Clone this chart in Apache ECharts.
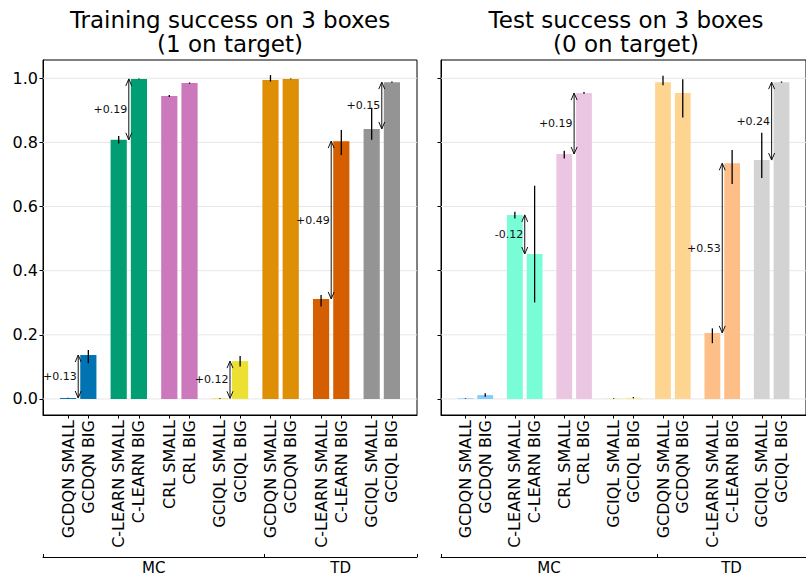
<!DOCTYPE html>
<html>
<head>
<meta charset="utf-8">
<script src="https://cdn.jsdelivr.net/npm/echarts@6/dist/echarts.min.js"></script>
<style>
  html, body { margin: 0; padding: 0; background: #fff; }
  #chart { width: 806px; height: 576px; }
</style>
</head>
<body>
<div id="chart"></div>
<script>
// Methods in plotting order, each shown with a SMALL and a BIG network
const methods = ['GCDQN', 'C-LEARN', 'CRL', 'GCIQL', 'GCDQN', 'C-LEARN', 'GCIQL'];
const sizes = ['SMALL', 'BIG'];
// Target estimation family (Monte-Carlo / temporal difference)
const groupNames = ['MC', 'TD'];
const groupEdges = [0, 0.592, 1];
const yTicks = [0, 0.2, 0.4, 0.6, 0.8, 1.0];

// Training success (1 box on target), mean and error-bar bounds
const trainValues = [0.003, 0.137, 0.808, 0.998, 0.945, 0.985, 0.002, 0.118, 0.995, 0.998, 0.312, 0.804, 0.842, 0.988];
const trainErrLow = [0.002, 0.111, 0.797, 0.997, 0.942, 0.983, 0.001, 0.101, 0.990, 0.997, 0.288, 0.761, 0.808, 0.986];
const trainErrHigh = [0.004, 0.153, 0.820, 0.999, 0.948, 0.987, 0.003, 0.134, 1.010, 0.999, 0.324, 0.839, 0.908, 0.990];

// Test success (0 boxes on target)
const testValues = [0.002, 0.012, 0.574, 0.452, 0.764, 0.954, 0.002, 0.004, 0.988, 0.954, 0.206, 0.735, 0.745, 0.988];
const testErrLow = [0.001, 0.007, 0.563, 0.301, 0.750, 0.952, 0.001, 0.002, 0.978, 0.878, 0.174, 0.670, 0.689, 0.986];
const testErrHigh = [0.003, 0.018, 0.584, 0.665, 0.774, 0.957, 0.003, 0.006, 1.008, 0.997, 0.220, 0.776, 0.830, 0.990];

const trainColors = ['#0173b2', '#029e73', '#cc78bc', '#ece133', '#de8f05', '#d55e00', '#949494'];
const testColors = ['#82cdf9', '#78fdd7', '#ebc6e3', '#f6eea4', '#fdd591', '#fdbe88', '#d3d3d3'];

const FONT = 'DejaVu Sans';
const BAR_W = 0.8;
const X_MIN = -1.24, X_MAX = 17.24;
const Y_MIN = -0.05, Y_MAX = 1.057;
const DIFF_MIN = 0.1; // only annotate gaps larger than this

// x positions: pairs one unit apart, pairs 2.5 units apart
const positions = [];
const labels = [];
methods.forEach((m, i) => {
  sizes.forEach((s, j) => {
    positions.push(i * 2.5 + j);
    labels.push(m + ' ' + s);
  });
});
const groupMids = groupEdges.slice(0, -1).map((e, i) => (e + groupEdges[i + 1]) / 2);

function labelAt(v, list, names) {
  const k = list.findIndex(p => Math.abs(p - v) < 1e-6);
  return k < 0 ? '' : names[k];
}

const grids = [
  { left: 43, top: 60, width: 374, height: 355 },
  { left: 441, top: 60, width: 373, height: 355 }
];

function mainXAxis(gi) {
  return {
    gridIndex: gi, type: 'value', min: X_MIN, max: X_MAX, position: 'bottom',
    axisLine: { show: true, onZero: false, lineStyle: { color: '#000', width: 1 } },
    axisTick: { show: true, customValues: positions, length: 3.5, lineStyle: { color: '#000', width: 1 } },
    axisLabel: {
      show: true, customValues: positions, rotate: 90, margin: 5,
      fontSize: 16, fontFamily: FONT, color: '#000',
      formatter: v => labelAt(v, positions, labels)
    },
    splitLine: { show: false }
  };
}

function groupXAxis(gi) {
  return {
    gridIndex: gi, type: 'value', min: 0, max: 1, position: 'bottom', offset: 142,
    axisLine: { show: true, onZero: false, lineStyle: { color: '#000', width: 1 } },
    axisTick: { show: true, inside: true, customValues: groupEdges, length: 3, lineStyle: { color: '#000', width: 1 } },
    axisLabel: {
      show: true, customValues: groupMids, margin: 3,
      fontSize: 15, fontFamily: FONT, color: '#000',
      formatter: v => labelAt(v, groupMids, groupNames)
    },
    splitLine: { show: false }
  };
}

function yAxis(gi, showLabels) {
  return {
    gridIndex: gi, type: 'value', min: Y_MIN, max: Y_MAX,
    axisLine: { show: true, onZero: false, lineStyle: { color: '#000', width: 1 } },
    axisTick: { show: true, customValues: yTicks, length: 3.5, lineStyle: { color: '#000', width: 1 } },
    axisLabel: {
      show: showLabels, customValues: yTicks, margin: 5,
      fontSize: 16, fontFamily: FONT, color: '#000',
      formatter: v => v.toFixed(1)
    },
    splitLine: { show: false }
  };
}

function panelSeries(gi, values, errLow, errHigh, colors) {
  const axisRef = { xAxisIndex: gi, yAxisIndex: gi };
  const series = [];

  // horizontal grid lines
  series.push(Object.assign({
    type: 'custom', z: 1, silent: true,
    data: yTicks.map(v => [0, v]),
    encode: { x: 0, y: 1 },
    renderItem: (params, api) => {
      const cs = params.coordSys;
      const y = api.coord([0, api.value(1)])[1];
      return {
        type: 'line',
        shape: { x1: cs.x, y1: y, x2: cs.x + cs.width, y2: y },
        style: { stroke: '#e6e6e6', lineWidth: 1 }
      };
    }
  }, axisRef));

  // bars
  series.push(Object.assign({
    type: 'custom', z: 2, silent: true,
    data: values.map((v, i) => [positions[i], v, Math.floor(i / 2)]),
    encode: { x: 0, y: 1 },
    renderItem: (params, api) => {
      const x = api.value(0), v = api.value(1);
      const p0 = api.coord([x - BAR_W / 2, v]);
      const p1 = api.coord([x + BAR_W / 2, 0]);
      return {
        type: 'rect',
        shape: { x: p0[0], y: Math.min(p0[1], p1[1]), width: p1[0] - p0[0], height: Math.abs(p1[1] - p0[1]) },
        style: { fill: colors[api.value(2)] }
      };
    }
  }, axisRef));

  // error bars
  series.push(Object.assign({
    type: 'custom', z: 3, silent: true,
    data: values.map((v, i) => [positions[i], errLow[i], errHigh[i]]),
    encode: { x: 0, y: [1, 2] },
    renderItem: (params, api) => {
      const x = api.value(0);
      const a = api.coord([x, api.value(1)]);
      const b = api.coord([x, api.value(2)]);
      return {
        type: 'line',
        shape: { x1: a[0], y1: a[1], x2: b[0], y2: b[1] },
        style: { stroke: '#000', lineWidth: 1.3 }
      };
    }
  }, axisRef));

  // SMALL -> BIG difference arrows
  const diffs = [];
  for (let i = 0; i < values.length; i += 2) {
    const d = values[i + 1] - values[i];
    if (Math.abs(d) > DIFF_MIN) diffs.push([positions[i] + 0.5, values[i], values[i + 1]]);
  }
  series.push(Object.assign({
    type: 'custom', z: 4, silent: true,
    data: diffs,
    encode: { x: 0, y: [1, 2] },
    renderItem: (params, api) => {
      const x = api.value(0), from = api.value(1), to = api.value(2);
      const a = api.coord([x, from]);
      const b = api.coord([x, to]);
      const dir = b[1] > a[1] ? 1 : -1; // screen direction from a to b
      const L = 7, W = 3;
      const stroke = { stroke: '#111', lineWidth: 1, fill: null };
      const d = to - from;
      const txt = (d >= 0 ? '+' : '-') + Math.abs(d).toFixed(2);
      return {
        type: 'group',
        children: [
          { type: 'line', shape: { x1: a[0], y1: a[1], x2: b[0], y2: b[1] }, style: stroke },
          { type: 'polyline', shape: { points: [[b[0] - W, b[1] - dir * L], [b[0], b[1]], [b[0] + W, b[1] - dir * L]] }, style: stroke },
          { type: 'polyline', shape: { points: [[a[0] - W, a[1] + dir * L], [a[0], a[1]], [a[0] + W, a[1] + dir * L]] }, style: stroke },
          {
            type: 'text',
            style: {
              text: txt, x: a[0] - 1.5, y: (a[1] + b[1]) / 2,
              align: 'right', verticalAlign: 'middle',
              fontSize: 11, fontFamily: FONT, fill: '#111'
            }
          }
        ]
      };
    }
  }, axisRef));

  return series;
}

const titleStyle = { fontSize: 23, fontWeight: 'normal', fontFamily: FONT, color: '#000', lineHeight: 24 };

const option = {
  backgroundColor: '#fff',
  animation: false,
  title: [
    { text: 'Training success on 3 boxes\n(1 on target)', left: 230, top: 8, textAlign: 'center', textStyle: titleStyle, padding: 0 },
    { text: 'Test success on 3 boxes\n(0 on target)', left: 626, top: 8, textAlign: 'center', textStyle: titleStyle, padding: 0 }
  ],
  grid: grids.map(g => Object.assign({ show: true, borderColor: '#000', borderWidth: 1, backgroundColor: '#fff', containLabel: false }, g)),
  xAxis: [mainXAxis(0), mainXAxis(1), groupXAxis(0), groupXAxis(1)],
  yAxis: [yAxis(0, true), yAxis(1, false)],
  series: [
    ...panelSeries(0, trainValues, trainErrLow, trainErrHigh, trainColors),
    ...panelSeries(1, testValues, testErrLow, testErrHigh, testColors)
  ]
};

const chart = echarts.init(document.getElementById('chart'), null, { renderer: 'svg' });
chart.setOption(option);
</script>
</body>
</html>
